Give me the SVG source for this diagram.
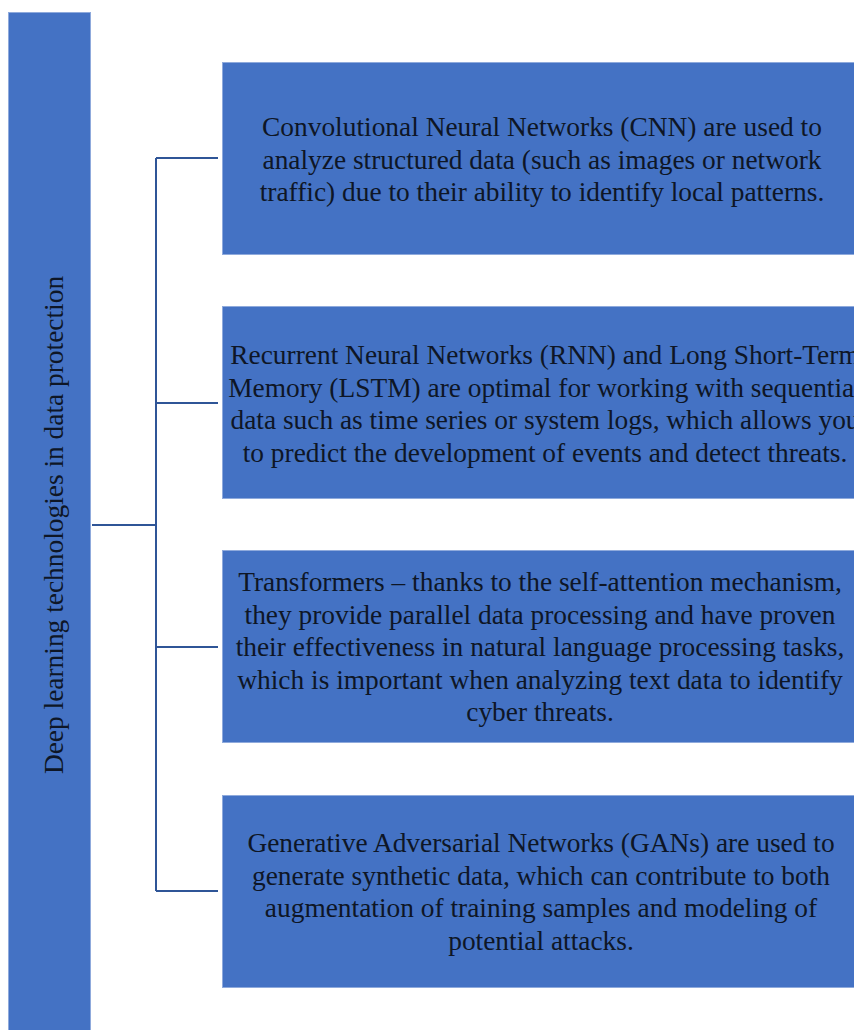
<svg xmlns="http://www.w3.org/2000/svg" width="854" height="1030" viewBox="0 0 854 1030">
<style>
.box{fill:#4472C4;stroke:#8FAADC;stroke-width:1}
.t{font-family:"Liberation Serif","Times New Roman",serif;font-size:27.4px;fill:#0E1626;text-anchor:middle}
.c{fill:none;stroke:#2F5597;stroke-width:2}
</style>
<rect width="854" height="1030" fill="#fff"/>
<g id="root">
<rect class="box" x="8.5" y="12.5" width="82" height="1030"/>
<text class="t" transform="translate(63,525) rotate(-90)">Deep learning technologies in data protection</text>
</g>
<g id="connectors">
<path class="c" d="M92 525H156M156 158V891M156 158H218M156 403H218M156 647H218M156 891H218"/>
</g>
<g id="n1">
<rect class="box" x="222.5" y="62.5" width="640" height="192"/>
<text class="t"><tspan x="542" y="136">Convolutional Neural Networks (CNN) are used to</tspan><tspan x="542" y="168.5">analyze structured data (such as images or network</tspan><tspan x="542" y="201">traffic) due to their ability to identify local patterns.</tspan></text>
</g>
<g id="n2">
<rect class="box" x="222.5" y="306.5" width="640" height="192"/>
<text class="t"><tspan x="545" y="364">Recurrent Neural Networks (RNN) and Long Short-Term</tspan><tspan x="545" y="396.5">Memory (LSTM) are optimal for working with sequential</tspan><tspan x="545" y="429">data such as time series or system logs, which allows you</tspan><tspan x="545" y="461.5">to predict the development of events and detect threats.</tspan></text>
</g>
<g id="n3">
<rect class="box" x="222.5" y="550.5" width="640" height="192"/>
<text class="t"><tspan x="540" y="591">Transformers – thanks to the self-attention mechanism,</tspan><tspan x="540" y="623.5">they provide parallel data processing and have proven</tspan><tspan x="540" y="656">their effectiveness in natural language processing tasks,</tspan><tspan x="540" y="688.5">which is important when analyzing text data to identify</tspan><tspan x="540" y="721">cyber threats.</tspan></text>
</g>
<g id="n4">
<rect class="box" x="222.5" y="795.5" width="640" height="192"/>
<text class="t"><tspan x="541" y="852">Generative Adversarial Networks (GANs) are used to</tspan><tspan x="541" y="884.5">generate synthetic data, which can contribute to both</tspan><tspan x="541" y="917">augmentation of training samples and modeling of</tspan><tspan x="541" y="949.5">potential attacks.</tspan></text>
</g>
</svg>
